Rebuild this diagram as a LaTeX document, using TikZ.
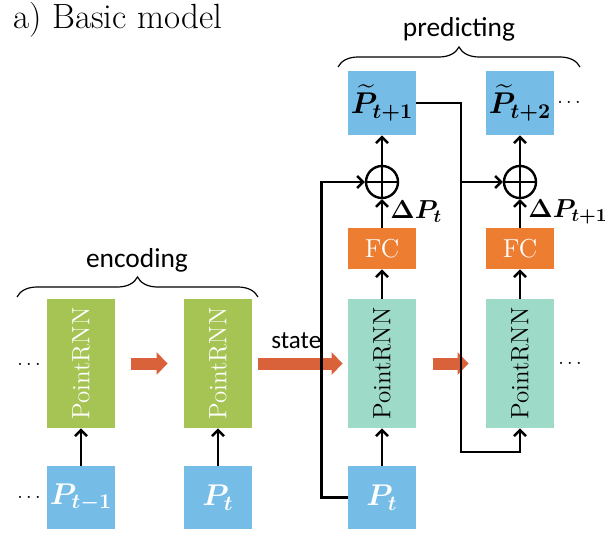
\documentclass[tikz,border=0pt]{standalone}
\usepackage{fix-cm}
\usepackage{amsmath}
\usepackage{bm}
\usepackage{fontspec}
\usetikzlibrary{arrows.meta,decorations.pathreplacing}
\newfontfamily\calibri{Carlito}
\definecolor{ptblue}{RGB}{117,189,231}
\definecolor{rnngreen}{RGB}{166,196,84}
\definecolor{rnnteal}{RGB}{157,219,200}
\definecolor{fcorange}{RGB}{237,125,49}
\definecolor{flow}{RGB}{217,98,59}
\newcommand{\bP}{\bm{P}}

\begin{document}
\begin{tikzpicture}[x=0.5pt,y=-0.5pt,
  box/.style={inner sep=0pt,minimum width=34pt},
  rnn/.style={box,minimum height=64.5pt,font=\fontsize{12.5}{14}\selectfont},
  pts/.style={box,fill=ptblue,minimum height=31.5pt,font=\fontsize{15}{17}\selectfont},
  fc/.style={box,fill=fcorange,minimum height=20.5pt,text=white,font=\fontsize{13}{15}\selectfont},
  plus/.style={circle,draw,line width=1.2pt,minimum size=16pt,inner sep=0pt},
  arr/.style={line width=1.2pt,-{Straight Barb[length=3pt,width=6pt]}},
  fat/.style={draw=flow,line width=6pt,-{Triangle[length=5.5pt,width=11pt]}},
  brc/.style={decorate,decoration={brace,amplitude=10pt},line width=0.6pt},
  dots/.style={font=\bfseries\fontsize{10}{12}\selectfont,inner sep=1pt},
  lbl/.style={font=\calibri\fontsize{13.7}{15}\selectfont}]
  \useasboundingbox (0,0) rectangle (610,540);
  \node[anchor=base west,inner sep=0pt,font=\fontsize{17.5}{19}\selectfont] (title) at (13,29) {a) Basic model};
  % encoding part
  \node[rnn,fill=rnngreen,text=white] (G1) at (81,363.5) {\rotatebox{90}{PointRNN}};
  \node[rnn,fill=rnngreen,text=white] (G2) at (218,363.5) {\rotatebox{90}{PointRNN}};
  \node[pts,text=white] (B1) at (81,497.5) {$\bP_{\bm{t-1}}$};
  \node[pts,text=white] (B2) at (218,497.5) {$\bP_{\bm t}$};
  \node[dots] (d1) at (29,364) {$\ldots$};
  \node[dots] (d2) at (29,497) {$\ldots$};
  % predicting part
  \node[rnn,fill=rnnteal] (T1) at (382,363.5) {\rotatebox{90}{PointRNN}};
  \node[rnn,fill=rnnteal] (T2) at (520,363.5) {\rotatebox{90}{PointRNN}};
  \node[pts,text=white] (B3) at (382,497.5) {$\bP_{\bm t}$};
  \node[fc] (F1) at (382,248.5) {FC};
  \node[fc] (F2) at (520,248.5) {FC};
  \node[plus] (C1) at (382,182) {};
  \node[plus] (C2) at (520,182) {};
  \node[pts,minimum height=32pt] (Q1) at (382,103) {$\widetilde{\bP}_{\bm{t+1}}$};
  \node[pts,minimum height=32pt] (Q2) at (520,103) {$\widetilde{\bP}_{\bm{t+2}}$};
  \node[dots] (d3) at (570,363) {$\ldots$};
  \node[dots] (d4) at (569,102) {$\ldots$};
  \node[anchor=west,inner sep=0pt,font=\fontsize{13}{15}\selectfont] (dP1) at (390,212) {$\bm{\Delta}\bP_{\bm t}$};
  \node[anchor=west,inner sep=0pt,font=\fontsize{13}{15}\selectfont] (dP2) at (528,212) {$\bm{\Delta}\bP_{\bm{t+1}}$};
  \coordinate (J1) at (461,182);
  \coordinate (J2) at (461,452);
  % plus signs
  \draw[line width=1.2pt] (C1.north) -- (C1.south) (C1.west) -- (C1.east);
  \draw[line width=1.2pt] (C2.north) -- (C2.south) (C2.west) -- (C2.east);
  % state flow
  \draw[fat,shorten <=8pt,shorten >=8pt] (G1) -- (G2);
  \draw[fat,shorten <=3pt,shorten >=2.5pt] (G2) -- (T1);
  \draw[fat,shorten <=8.5pt,shorten >=8.5pt] (T1) -- (T2);
  \node[anchor=base west,inner sep=0pt,font=\calibri\fontsize{12.5}{14}\selectfont] (st) at (271,348) {state};
  % connections
  \draw[arr] (B1) -- (G1);
  \draw[arr] (B2) -- (G2);
  \draw[arr] (B3) -- (T1);
  \draw[arr] (T1) -- (F1);
  \draw[arr] (F1) -- (C1);
  \draw[arr] (C1) -- (Q1);
  \draw[arr] (T2.north) -- (F2.south);
  \draw[arr] (F2) -- (C2);
  \draw[arr] (C2) -- (Q2);
  \draw[arr] (B3.west) -- ++(-26,0) |- (C1.west);
  \draw[arr] (Q1.east) -| (J2) -| (T2.south);
  \draw[arr] (J1) -- (C2.west);
  % braces
  \draw[brc] (17,297) -- (258,297);
  \node[lbl,anchor=base] (enc) at (137,267) {encoding};
  \draw[brc] (338,67) -- (580,67);
  \node[lbl,anchor=base] (pred) at (459,37) {predicting};
\end{tikzpicture}
\end{document}
